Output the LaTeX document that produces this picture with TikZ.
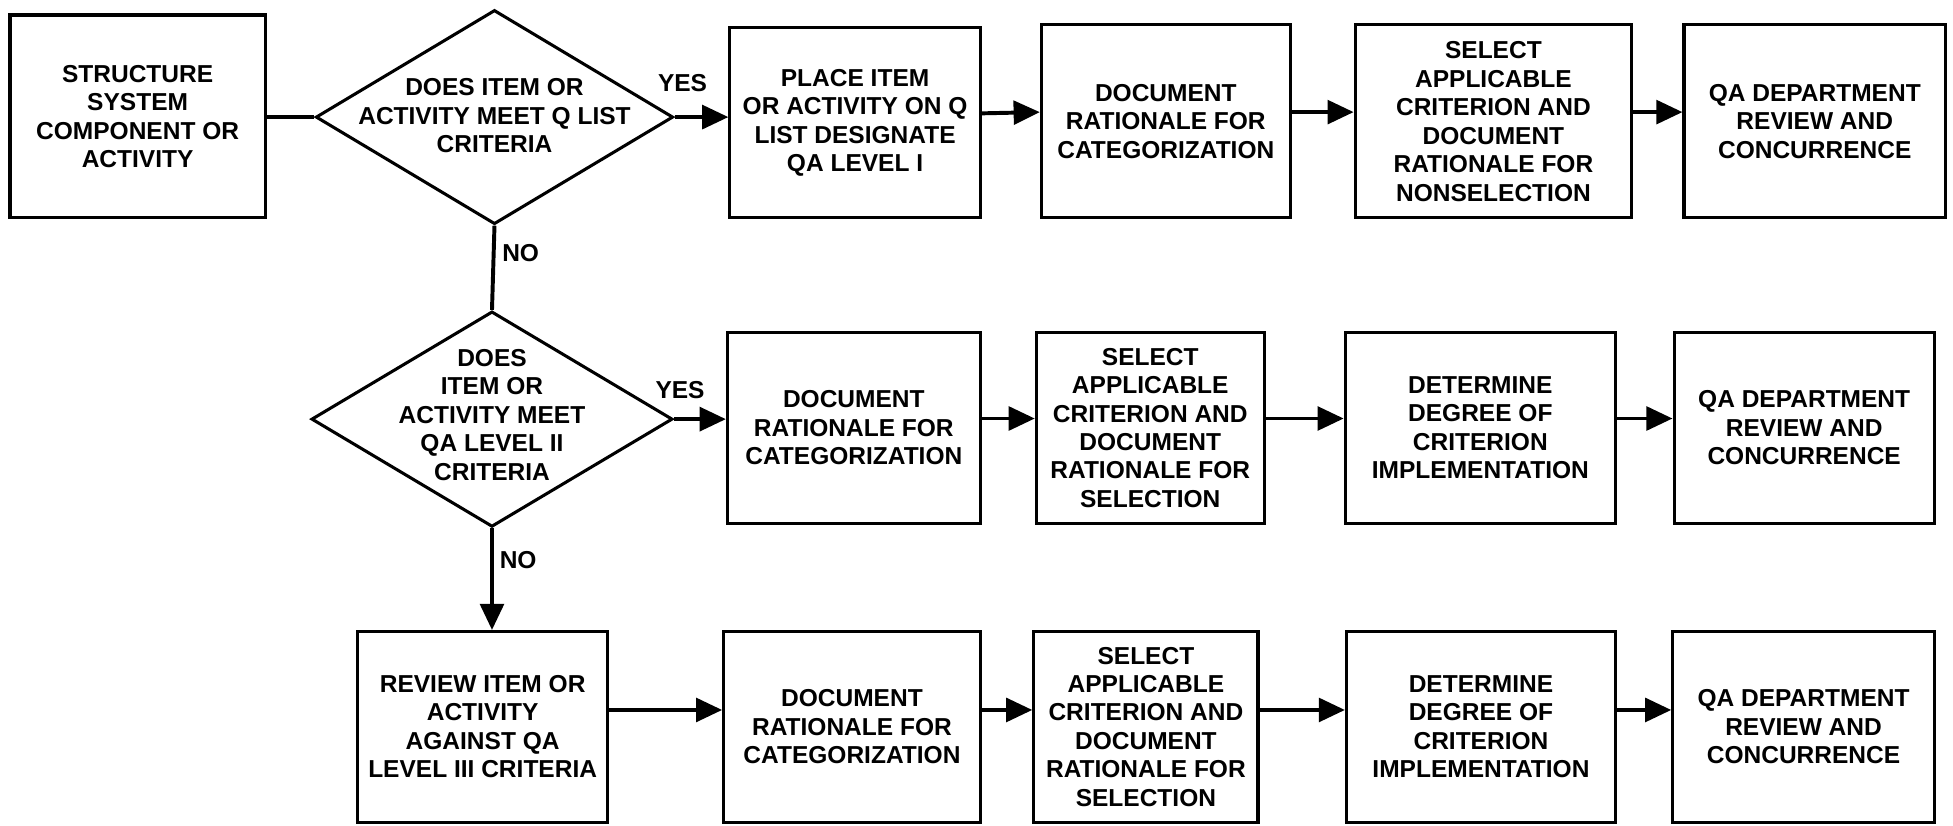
\documentclass[tikz,border=0pt]{standalone}
\usepackage{fontspec}
\setmainfont{Liberation Sans}
\usetikzlibrary{shapes.geometric,arrows.meta}
\begin{document}
\begin{tikzpicture}[x=0.02cm,y=-0.02cm,
  tfont/.style={font=\bfseries\fontsize{11.2}{13}\selectfont},
  box/.style={draw, line width=1.4pt, inner sep=0pt, align=center, tfont},
  dia/.style={draw, diamond, line width=1.4pt, inner sep=0pt, aspect=1.67},
  txt/.style={align=center, inner sep=0pt, tfont},
  lbl/.style={inner sep=0pt, tfont},
  ln/.style={line width=1.8pt},
  arr/.style={line width=1.8pt, -{Triangle[length=0.42cm,width=0.38cm]}}]
\useasboundingbox (0,0) rectangle (1568,663);

% row 1
\node[box, minimum width=4.10cm, minimum height=3.26cm] (a) at (110.5,93.5) {STRUCTURE\\SYSTEM\\COMPONENT OR\\ACTIVITY};
\node[dia, minimum width=5.74cm, minimum height=3.44cm] (d1) at (397,94) {};
\node[txt] (d1t) at (397,93) {DOES ITEM OR\\ACTIVITY MEET Q LIST\\CRITERIA};
\node[box, minimum width=4.02cm, minimum height=3.06cm] (b1) at (686.5,98.5) {PLACE ITEM\\OR ACTIVITY ON Q\\LIST DESIGNATE\\QA LEVEL I};
\node[box, minimum width=4.00cm, minimum height=3.10cm] (c1) at (936,97.5) {DOCUMENT\\RATIONALE FOR\\CATEGORIZATION};
\node[box, minimum width=4.44cm, minimum height=3.10cm] (e1) at (1199,97.5) {SELECT\\APPLICABLE\\CRITERION AND\\DOCUMENT\\RATIONALE FOR\\NONSELECTION};
\node[box, minimum width=4.20cm, minimum height=3.10cm] (f1) at (1457,97.5) {QA DEPARTMENT\\REVIEW AND\\CONCURRENCE};

% row 2
\node[dia, minimum width=5.80cm, minimum height=3.46cm] (d2) at (395,336.5) {};
\node[txt] (d2t) at (395,333) {DOES\\ITEM OR\\ACTIVITY MEET\\QA LEVEL II\\CRITERIA};
\node[box, minimum width=4.06cm, minimum height=3.06cm] (b2) at (685.5,343.5) {DOCUMENT\\RATIONALE FOR\\CATEGORIZATION};
\node[box, minimum width=3.66cm, minimum height=3.06cm] (c2) at (923.5,343.5) {SELECT\\APPLICABLE\\CRITERION AND\\DOCUMENT\\RATIONALE FOR\\SELECTION};
\node[box, minimum width=4.34cm, minimum height=3.06cm] (e2) at (1188.5,343.5) {DETERMINE\\DEGREE OF\\CRITERION\\IMPLEMENTATION};
\node[box, minimum width=4.18cm, minimum height=3.06cm] (f2) at (1448.5,343.5) {QA DEPARTMENT\\REVIEW AND\\CONCURRENCE};

% row 3
\node[box, minimum width=4.02cm, minimum height=3.06cm] (a3) at (387.5,583.5) {REVIEW ITEM OR\\ACTIVITY\\AGAINST QA\\LEVEL III CRITERIA};
\node[box, minimum width=4.12cm, minimum height=3.06cm] (b3) at (684,583.5) {DOCUMENT\\RATIONALE FOR\\CATEGORIZATION};
\node[box, minimum width=3.60cm, minimum height=3.06cm] (c3) at (920,583.5) {SELECT\\APPLICABLE\\CRITERION AND\\DOCUMENT\\RATIONALE FOR\\SELECTION};
\node[box, minimum width=4.32cm, minimum height=3.06cm] (e3) at (1189,583.5) {DETERMINE\\DEGREE OF\\CRITERION\\IMPLEMENTATION};
\node[box, minimum width=4.20cm, minimum height=3.06cm] (f3) at (1448,583.5) {QA DEPARTMENT\\REVIEW AND\\CONCURRENCE};

% labels
\node[lbl] (yes1) at (548,67) {YES};
\node[lbl] (no1) at (418,203) {NO};
\node[lbl] (yes2) at (546,313) {YES};
\node[lbl] (no2) at (416,450) {NO};

% connectors
\draw[ln] (a.east |- d1.west) -- (d1.west);
\draw[arr] (d1.east) -- (b1.west |- d1.east);
\draw[arr] ([yshift=0.15cm]b1.east) -- ([yshift=0.15cm]c1.west);
\draw[arr] ([yshift=0.15cm]c1.east) -- ([yshift=0.15cm]e1.west);
\draw[arr] ([yshift=0.15cm]e1.east) -- ([yshift=0.15cm]f1.west);
\draw[ln] (d1.south) -- (d2.north);

\draw[arr] (d2.east) -- (b2.west |- d2.east);
\draw[arr] ([yshift=0.15cm]b2.east) -- ([yshift=0.15cm]c2.west);
\draw[arr] ([yshift=0.15cm]c2.east) -- ([yshift=0.15cm]e2.west);
\draw[arr] ([yshift=0.15cm]e2.east) -- ([yshift=0.15cm]f2.west);
\draw[arr] (d2.south) -- (d2.south |- a3.north);

\draw[arr] ([yshift=0.27cm]a3.east) -- ([yshift=0.27cm]b3.west);
\draw[arr] ([yshift=0.27cm]b3.east) -- ([yshift=0.27cm]c3.west);
\draw[arr] ([yshift=0.27cm]c3.east) -- ([yshift=0.27cm]e3.west);
\draw[arr] ([yshift=0.27cm]e3.east) -- ([yshift=0.27cm]f3.west);
\end{tikzpicture}
\end{document}
